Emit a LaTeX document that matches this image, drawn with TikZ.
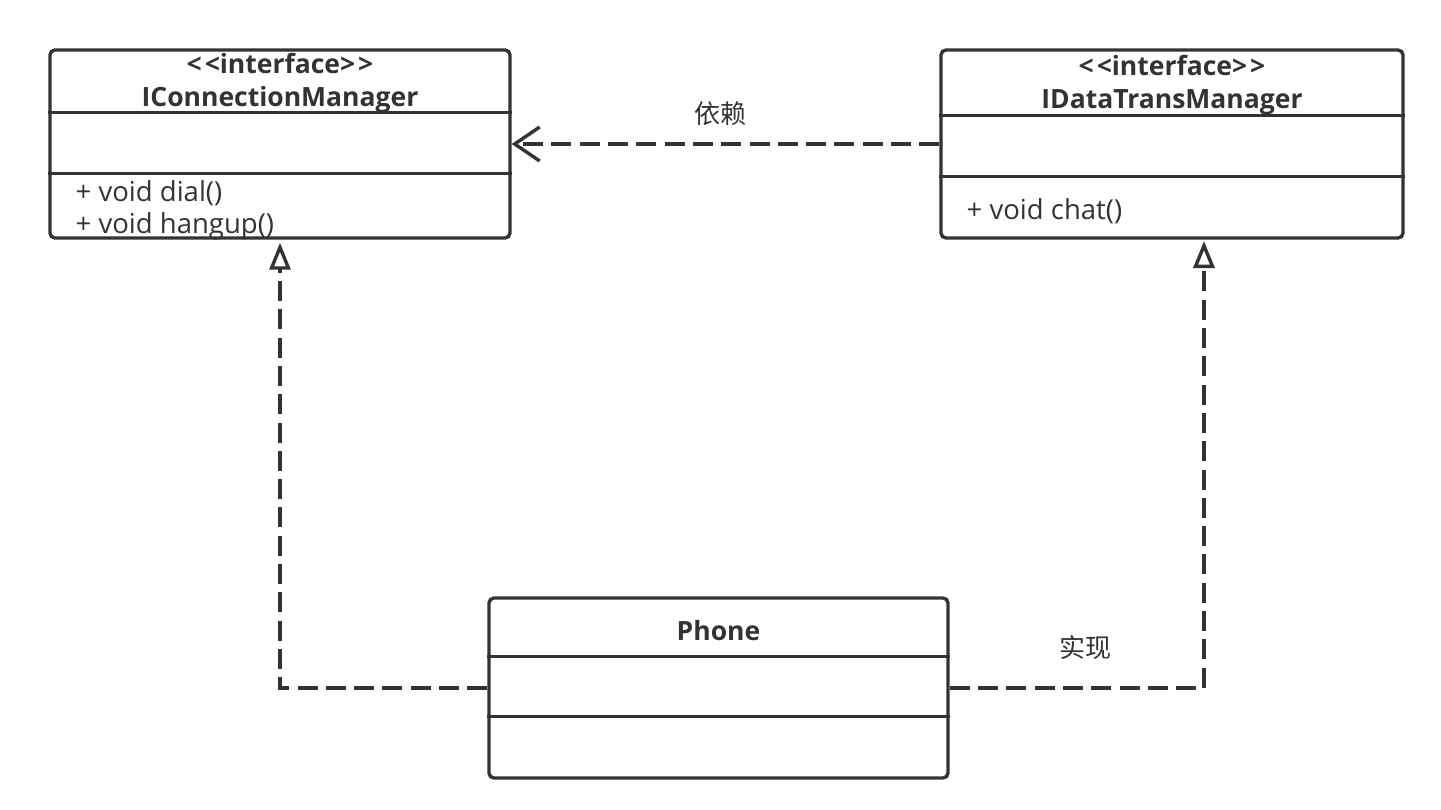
\documentclass[tikz,border=0pt]{standalone}
\usepackage{fontspec}
\setmainfont{Open Sans}
\newfontfamily\cjk{Noto Sans CJK SC}
\usetikzlibrary{arrows.meta}
\definecolor{umlgray}{HTML}{333333}
\newcommand{\stereo}[1]{\textless\kern3pt\textless#1\textgreater\kern3pt\textgreater}

\begin{document}
\begin{tikzpicture}
  [x=1pt,y=-1pt,line width=3.4pt,color=umlgray]
      \tikzstyle{class_box} = [draw, rounded corners=5pt, fill=white, inner sep=0pt]
      \tikzstyle{name_text} = [align=center, inner sep=0pt, font=\bfseries\fontsize{26.5}{33}\selectfont]
      \tikzstyle{op_text} = [align=left, anchor=west, inner sep=0pt, font=\fontsize{27.5}{32}\selectfont]
      \tikzstyle{label_text} = [inner sep=0pt, font=\cjk\fontsize{26}{30}\selectfont]
      \tikzstyle{dep_edge} = [dash pattern=on 20pt off 8.3pt, -{Straight Barb[length=25pt,width=34pt]}]
      \tikzstyle{real_edge} = [dash pattern=on 20pt off 8.3pt, -{Triangle[open,length=27pt,width=21pt]}]
  \useasboundingbox (0,0) rectangle (1441,809);
  \node[class_box, minimum width=460, minimum height=188] (icm) at (280,144) {};
  \node[class_box, minimum width=462, minimum height=188] (idt) at (1172,144) {};
  \node[class_box, minimum width=459, minimum height=180] (phone) at (718.5,688) {};
  \draw ([yshift=-64pt]icm.north west) -- ([yshift=-64pt]icm.north east);
  \draw ([yshift=-125pt]icm.north west) -- ([yshift=-125pt]icm.north east);
  \draw ([yshift=-67pt]idt.north west) -- ([yshift=-67pt]idt.north east);
  \draw ([yshift=-128pt]idt.north west) -- ([yshift=-128pt]idt.north east);
  \draw ([yshift=-60pt]phone.north west) -- ([yshift=-60pt]phone.north east);
  \draw ([yshift=-120pt]phone.north west) -- ([yshift=-120pt]phone.north east);
  \node[name_text] (icm_name) at (280,83) {\stereo{interface}\\IConnectionManager};
  \node[name_text] (idt_name) at (1172,85.5) {\stereo{interface}\\IDataTransManager};
  \node[name_text] (phone_name) at (718.5,631) {Phone};
  \node[op_text] (icm_ops) at (74,210) {+ void dial()\\+ void hangup()};
  \node[op_text] (idt_ops) at (965,211) {+ void chat()};
  \coordinate (idt_in) at (1204,241);
  \draw[dep_edge] (idt) -- (icm);
  \draw[real_edge] (phone.west) -| ([yshift=-3pt]icm.south);
  \draw[real_edge] (phone.east) -| (idt_in);
  \node[label_text] (dep_label) at (720,114) {依赖};
  \node[label_text] (real_label) at (1085,648) {实现};
\end{tikzpicture}
\end{document}
